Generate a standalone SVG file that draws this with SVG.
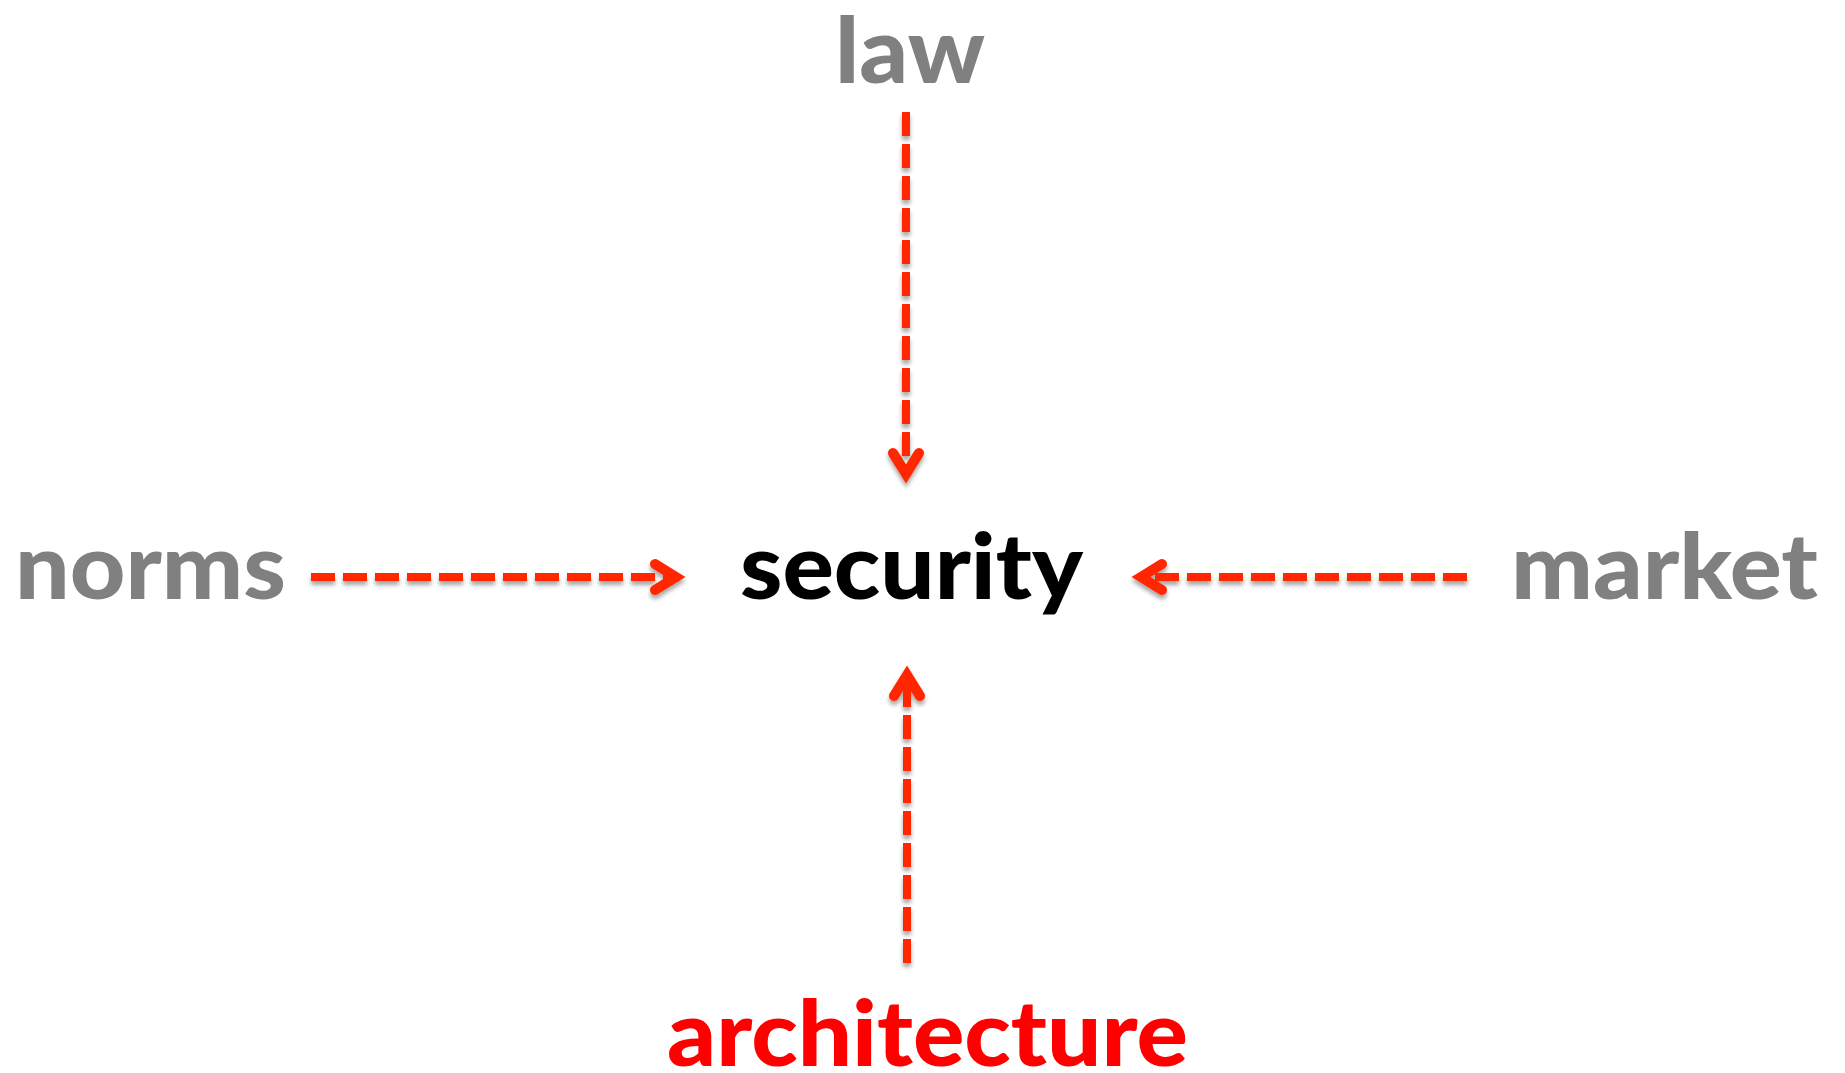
<svg xmlns="http://www.w3.org/2000/svg" width="1845" height="1073" viewBox="0 0 1845 1073">
  <style>
    .lbl { font-family: Lato, "Liberation Sans", sans-serif; font-weight: 900; font-size: 92px; }
    .gray { fill: #808080; }
    .black { fill: #000000; }
    .red { fill: #ff0000; }
    .conn { fill: none; stroke: #ff2600; stroke-width: 8; stroke-dasharray: 24 8; }
  </style>
  <defs>
    <filter id="shadow" x="-20%" y="-20%" width="140%" height="140%">
      <feDropShadow dx="0" dy="4" stdDeviation="2" flood-color="#000000" flood-opacity="0.35"/>
    </filter>
    <marker id="head" markerUnits="userSpaceOnUse" orient="auto" refX="0" refY="0" markerWidth="40" markerHeight="40" viewBox="-30 -20 40 40" overflow="visible">
      <path d="M-21,-13 L0,0 L-21,13" fill="none" stroke="#ff2600" stroke-width="10" stroke-linecap="round" stroke-linejoin="miter" stroke-miterlimit="10"/>
    </marker>
  </defs>
  <rect width="1845" height="1073" fill="#ffffff"/>
  <g id="connectors" filter="url(#shadow)">
    <path class="conn" d="M906,112 L906,474" marker-end="url(#head)"/>
    <path class="conn" d="M311,577 L676,577" marker-end="url(#head)"/>
    <path class="conn" d="M1467,577 L1141,577" marker-end="url(#head)"/>
    <path class="conn" d="M907,963 L907,675" marker-end="url(#head)"/>
  </g>
  <g id="law"><text class="lbl gray" x="835" y="83" textLength="150" lengthAdjust="spacingAndGlyphs">law</text></g>
  <g id="norms"><text class="lbl gray" x="15" y="599" textLength="271" lengthAdjust="spacingAndGlyphs">norms</text></g>
  <g id="security"><text class="lbl black" x="740" y="599" textLength="343" lengthAdjust="spacingAndGlyphs">security</text></g>
  <g id="market"><text class="lbl gray" x="1511" y="599" textLength="307" lengthAdjust="spacingAndGlyphs">market</text></g>
  <g id="architecture"><text class="lbl red" x="667" y="1066" textLength="521" lengthAdjust="spacingAndGlyphs">architecture</text></g>
</svg>
